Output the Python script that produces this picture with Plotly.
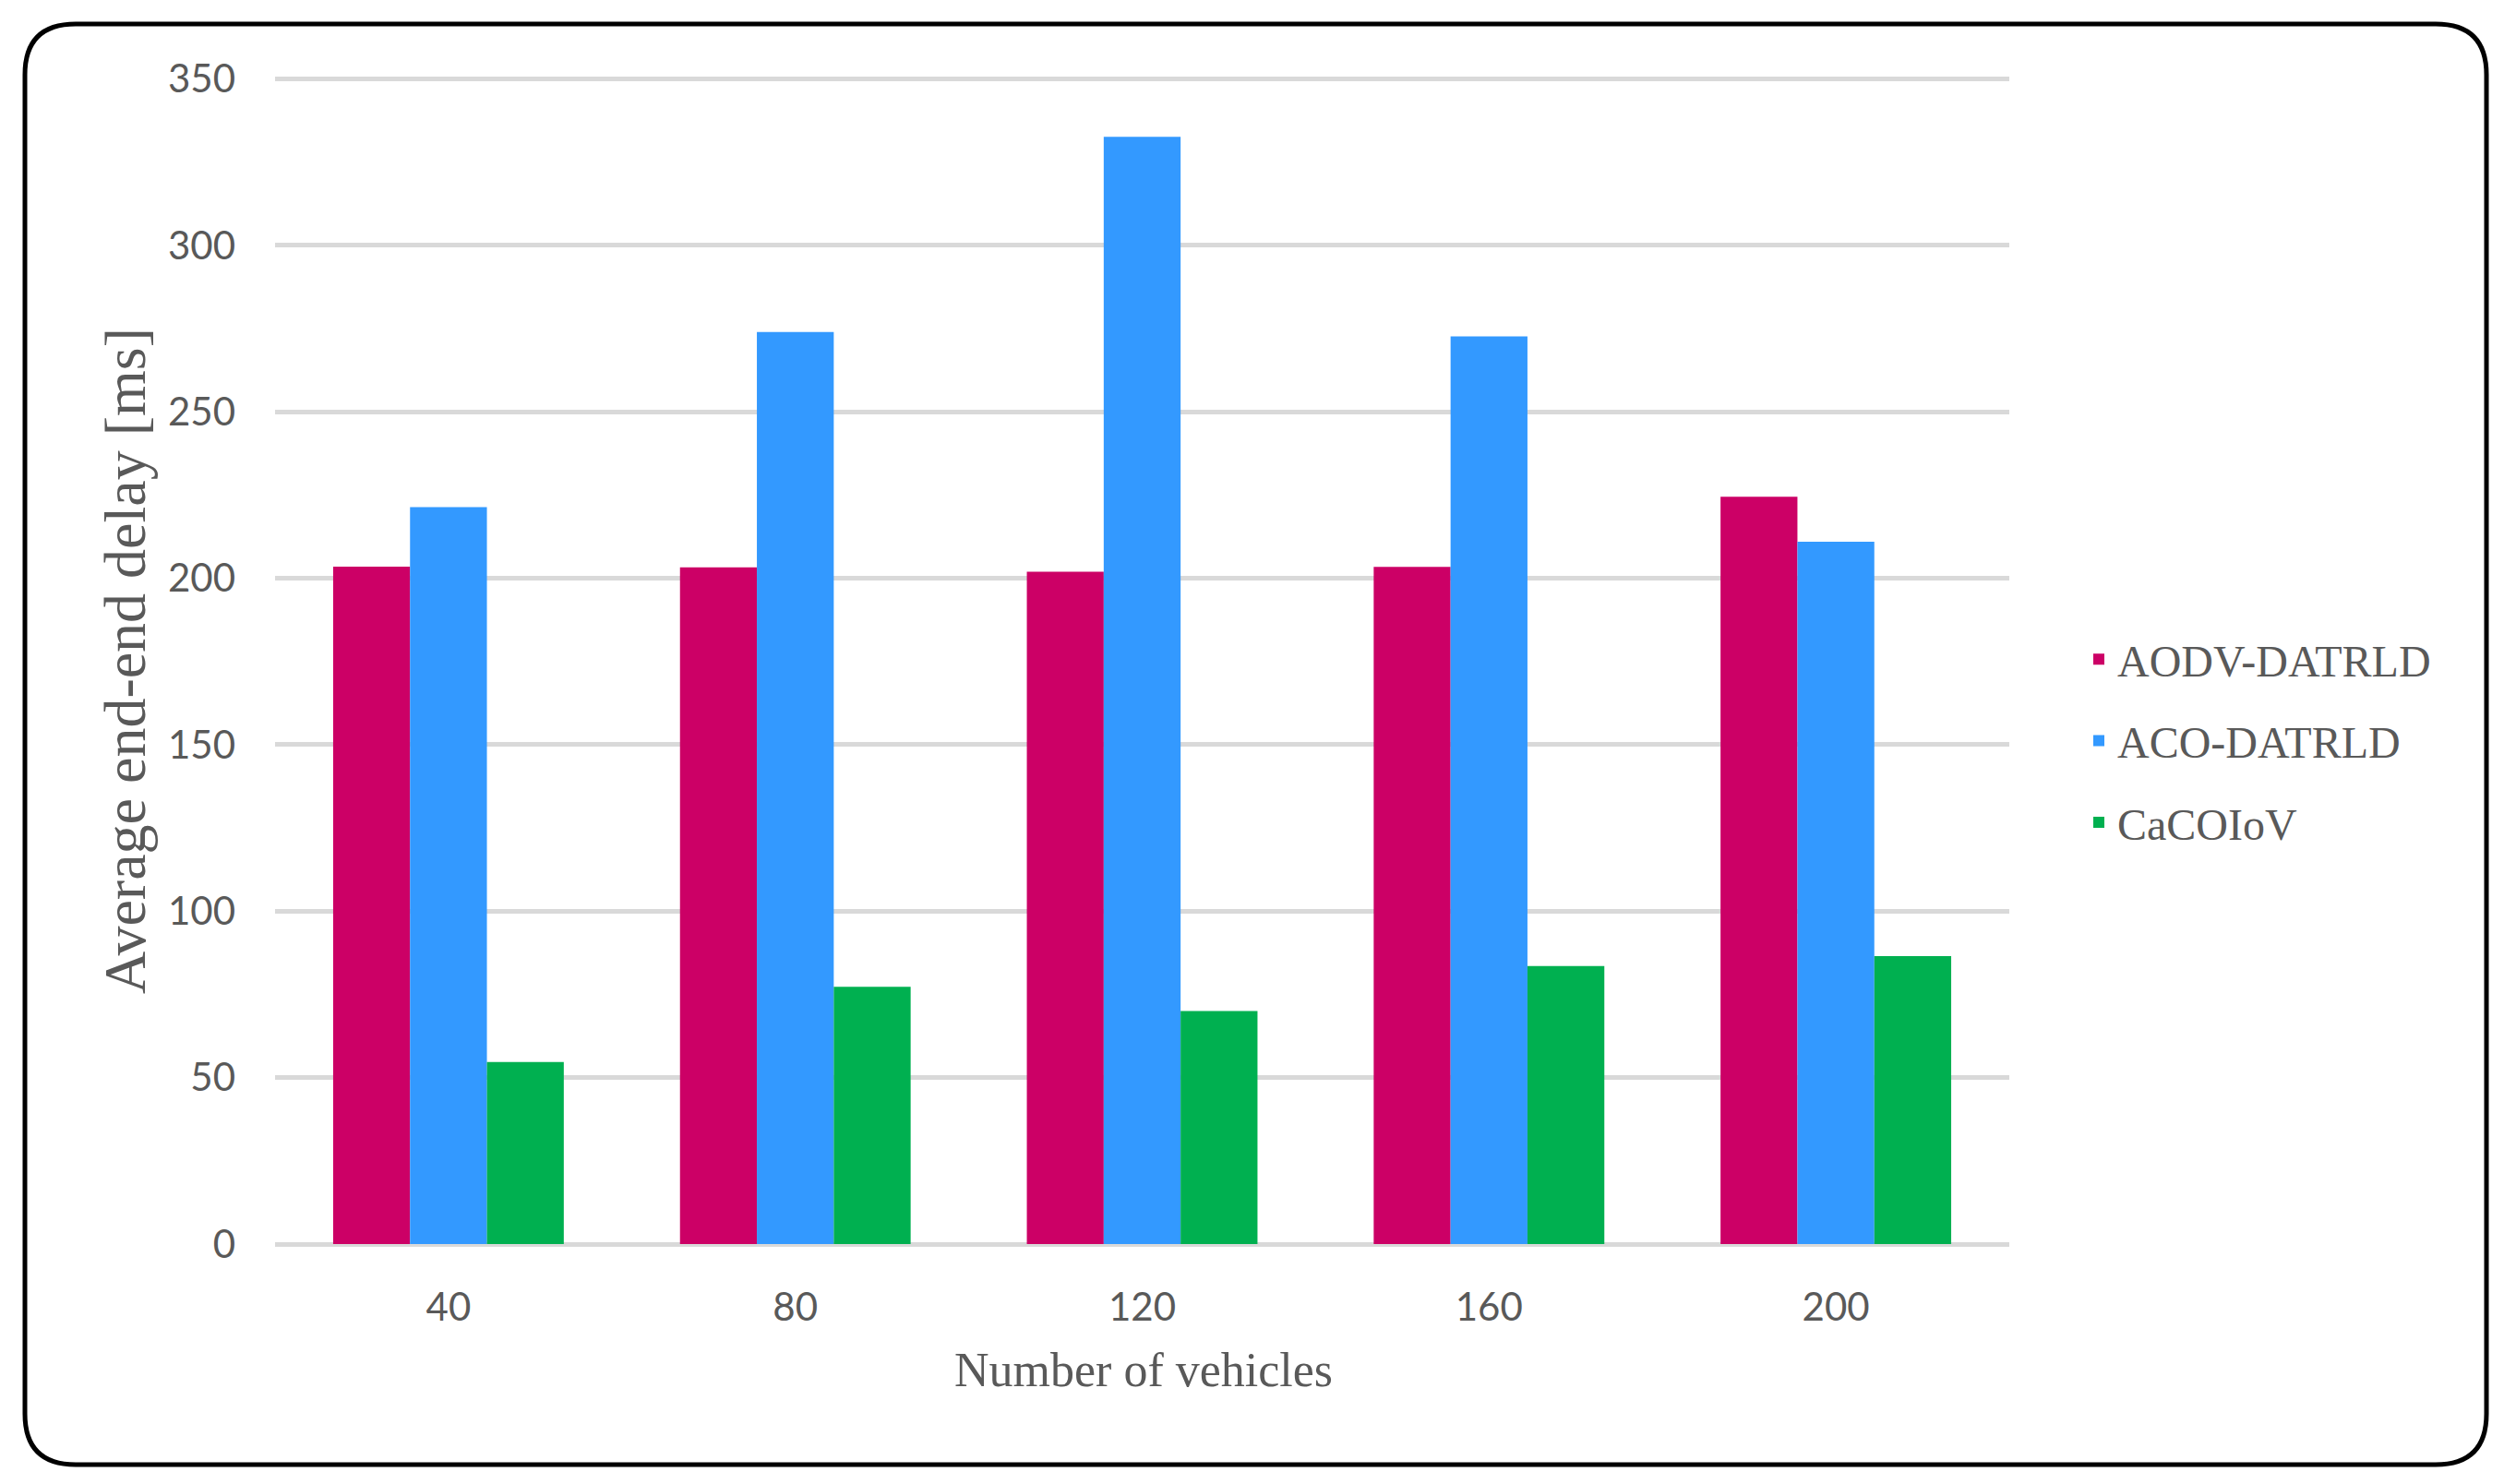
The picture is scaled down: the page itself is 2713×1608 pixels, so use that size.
import plotly.graph_objects as go

# ---- data ----
categories = ["40", "80", "120", "160", "200"]
aodv = [203.5, 203.3, 202.0, 203.4, 224.5]
aco = [221.4, 274.0, 332.6, 272.7, 211.0]
cacoiov = [54.7, 77.3, 70.0, 83.5, 86.5]
series_names = ["AODV-DATRLD", "ACO-DATRLD", "CaCOIoV"]
y_ticks = [0, 50, 100, 150, 200, 250, 300, 350]
x_title = "Number of vehicles"
y_title = "Average end-end delay [ms]"

# ---- layout constants (pixels, page coordinates) ----
OFF = 8  # default body margin of the html page
W, H = 2713 - OFF, 1608 - OFF
L, T = 298 - OFF, 82 - OFF
R = 2713 - 2177
B = 1608 - 1348
PW, PH = W - L - R, H - T - B


def px_x(p):
    return (p - OFF - L) / PW


def px_y(p):
    return (T + PH - (p - OFF)) / PH


colors = ["#CC0066", "#3399FF", "#00B050"]
fig = go.Figure()
for name, vals, col in zip(series_names, [aodv, aco, cacoiov], colors):
    fig.add_trace(go.Bar(
        x=categories, y=vals, name=name, legendgroup=name,
        marker=dict(color=col, line=dict(width=0)),
    ))

# rounded border
x0, x1 = px_x(27), px_x(2694)
y1, y0 = px_y(26), px_y(1587)
rx, ry = 55 / PW, 55 / PH
path = (f"M {x0+rx},{y1} L {x1-rx},{y1} Q {x1},{y1} {x1},{y1-ry} "
        f"L {x1},{y0+ry} Q {x1},{y0} {x1-rx},{y0} "
        f"L {x0+rx},{y0} Q {x0},{y0} {x0},{y0+ry} "
        f"L {x0},{y1-ry} Q {x0},{y1} {x0+rx},{y1} Z")

grey = "#595959"
serif = "Liberation Serif, Times New Roman, serif"
sans = "Lato, Open Sans, sans-serif"
fig.update_layout(
    width=W, height=H,
    margin=dict(l=L, r=R, t=T, b=B, autoexpand=False),
    paper_bgcolor="white", plot_bgcolor="white",
    barmode="group", bargap=0.335, bargroupgap=0,
    showlegend=True,
    legend=dict(
        x=px_x(2254), xanchor="left", y=px_y(803), yanchor="middle",
        font=dict(family=serif, size=48, color=grey),
        tracegroupgap=23, traceorder="grouped", bgcolor="rgba(0,0,0,0)",
    ),
    shapes=[dict(type="path", path=path, xref="paper", yref="paper",
                 line=dict(color="black", width=5), fillcolor="rgba(0,0,0,0)",
                 layer="below")],
    annotations=[
        dict(text=x_title, x=px_x(1239), y=px_y(1484), xref="paper", yref="paper",
             xanchor="center", yanchor="middle", showarrow=False,
             font=dict(family=serif, size=52, color=grey)),
        dict(text=y_title, x=px_x(135), y=px_y(716), xref="paper", yref="paper",
             xanchor="center", yanchor="middle", showarrow=False, textangle=-90,
             font=dict(family=serif, size=64, color=grey)),
    ],
)
fig.update_xaxes(
    type="category", showgrid=False, showline=False, zeroline=False,
    ticks="", ticklabelstandoff=40,
    tickfont=dict(family=sans, size=42, color=grey),
)
fig.update_yaxes(
    range=[0, 351], tickvals=y_ticks, showline=False,
    showgrid=True, gridcolor="#D9D9D9", gridwidth=5,
    zeroline=True, zerolinecolor="#D9D9D9", zerolinewidth=5,
    ticks="", ticklabelstandoff=42,
    tickfont=dict(family=sans, size=42, color=grey),
)

fig.write_html("out.html")
